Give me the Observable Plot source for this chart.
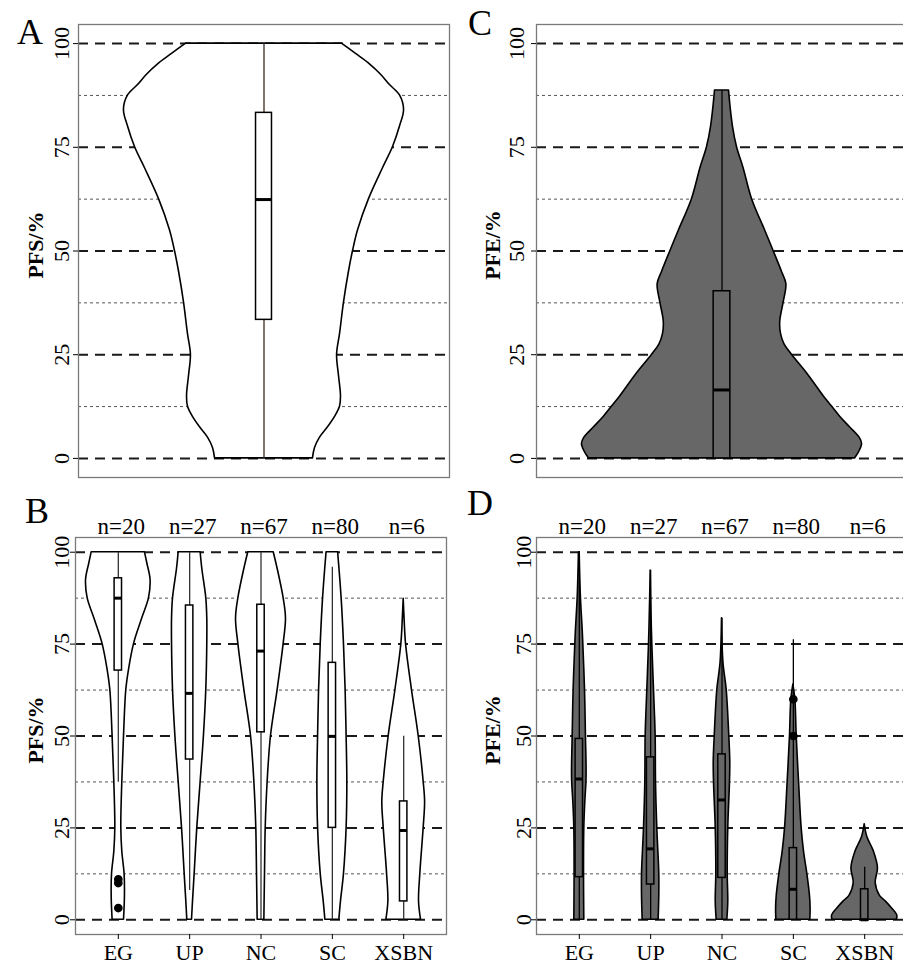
<!DOCTYPE html>
<html><head><meta charset="utf-8">
<script src="https://cdn.jsdelivr.net/npm/d3@7"></script>
<script src="https://cdn.jsdelivr.net/npm/@observablehq/plot@0.6"></script>
<style>
body{margin:0;background:#fff;}
#fig{position:relative;width:903px;height:965px;overflow:hidden;background:#fff;font-family:"Liberation Serif","Times New Roman",serif;}
.panel{position:absolute;}
.panel svg{max-width:none !important;display:block;}
.letter{position:absolute;font-size:36px;line-height:1.15;color:#000;font-family:"Liberation Serif","Times New Roman",serif;}
</style></head><body><div id="fig"></div>
<script>
// ---------- shared ----------
const yTicks = [0, 25, 50, 75, 100];
const yMinor = [12.5, 37.5, 62.5, 87.5];
const categories = ["EG", "UP", "NC", "SC", "XSBN"];
const counts = [20, 27, 67, 80, 6];

// ---------- panel A (PFS, all) ----------
const aLevels = [0,2.5,5,7.5,10,12.5,15,20,25,30,37.5,45,50,55,62.5,70,75,80,84,87.5,90,92.5,95,97.5,100];
const aWidths = [0.264,0.275,0.302,0.345,0.383,0.41,0.415,0.404,0.394,0.41,0.431,0.458,0.48,0.507,0.566,0.642,0.695,0.733,0.755,0.733,0.679,0.631,0.571,0.496,0.42];
const aStats = {q1: 33.4, med: 62.4, q3: 83.3, lo: 0, hi: 100};

// ---------- panel C (PFE, all) ----------
const cLevels = [0,1.5,3.5,5,7.5,10,12.5,15,20,25,27.5,30,33,37.5,42,45,50,55,62.5,70,75,80,87.5,88.7];
const cWidths = [0.717,0.739,0.755,0.742,0.69,0.638,0.593,0.548,0.467,0.377,0.337,0.318,0.314,0.332,0.347,0.323,0.278,0.232,0.162,0.116,0.081,0.059,0.04,0.038];
const cStats = {q1: 0, med: 16.5, q3: 40.3, lo: 0, hi: 88.7};

// ---------- panel B (PFS by region) ----------
const bEGLevels = [0,6.5,12.5,18.5,25,37.5,50,62.5,68,75,82,87.5,92.5,97,100];
const bEGWidths = [0.08,0.093,0.088,0.056,0.042,0.056,0.08,0.112,0.15,0.22,0.336,0.43,0.452,0.406,0.373];
const bUPLevels = [0,5,12.5,25,37.5,50,62.5,75,82,87.5,95.5,100];
const bUPWidths = [0.033,0.047,0.07,0.107,0.154,0.2,0.233,0.247,0.247,0.233,0.177,0.154];
const bNCLevels = [0,12.5,25,37.5,50,62.5,75,82,87.5,95.5,100];
const bNCWidths = [0.047,0.056,0.066,0.093,0.14,0.233,0.317,0.35,0.317,0.233,0.178];
const bSCLevels = [0,5,12.5,25,37.5,50,62.5,75,87.5,100];
const bSCWidths = [0.098,0.121,0.163,0.2,0.21,0.2,0.186,0.163,0.13,0.081];
const bXSLevels = [0,5,12.5,25,32,37.5,50,62.5,75,82,87.3];
const bXSWidths = [0.243,0.215,0.233,0.28,0.3,0.28,0.21,0.116,0.033,0.012,0];
const bQ1 = [67.8, 43.6, 51, 25, 5];
const bMed = [87.5, 61.6, 73.1, 49.9, 24.3];
const bQ3 = [92.9, 85.5, 85.7, 69.9, 32.2];
const bLo = [37.4, 8, 0, 0, 0];
const bHi = [100, 100, 100, 95.9, 49.9];
const bOutCat = ["EG", "EG", "EG"];
const bOutVal = [11, 10, 3.2];

// ---------- panel D (PFE by region) ----------
const dEGLevels = [0,12.5,25,32,37.5,41,50,62.5,75,79,87.5,100];
const dEGWidths = [0.07,0.066,0.07,0.084,0.1,0.102,0.093,0.08,0.056,0.047,0.023,0.005];
const dUPLevels = [0,6.5,12.5,25,37.5,50,62.5,75,87.5,95];
const dUPWidths = [0.112,0.121,0.121,0.093,0.075,0.07,0.047,0.023,0.007,0];
const dNCLevels = [0,5,12.5,25,37.5,43,50,62.5,70,82];
const dNCWidths = [0.075,0.088,0.08,0.088,0.112,0.116,0.102,0.066,0.02,0];
const dSCLevels = [0,3,6.5,12.5,18.5,25,37.5,50,60,64];
const dSCWidths = [0.238,0.242,0.233,0.196,0.15,0.116,0.08,0.047,0.028,0];
const dXSLevels = [0,1.2,3,5,6.5,10,14,18.5,22.5,26];
const dXSWidths = [0.452,0.457,0.387,0.294,0.214,0.154,0.186,0.13,0.037,0];
const dQ1 = [11.6, 9.6, 11.4, 0, 0];
const dMed = [38.3, 19.3, 32.6, 8.3, 0];
const dQ3 = [49.2, 44.2, 45, 19.5, 8.3];
const dLo = [0, 0, 0, 0, 0];
const dHi = [100, 95, 82, 76.2, 14.3];
const dOutCat = ["SC", "SC"];
const dOutVal = [60, 50];

// ---------- helpers ----------
function violinRows(list) {
  const rows = [];
  list.forEach(([pos, levels, widths]) => levels.forEach((v, i) => rows.push({pos, v, w: widths[i]})));
  return rows;
}
function statRows(q1, med, q3, lo, hi) {
  return q1.map((d, i) => ({pos: i + 1, q1: q1[i], med: med[i], q3: q3[i], lo: lo[i], hi: hi[i]}));
}

function makePanel(o) {
  const font = '"Liberation Serif","Times New Roman",serif';
  const marks = [
    Plot.ruleY(yMinor, {stroke: "#555", strokeWidth: 1, strokeDasharray: "3,3"}),
    Plot.ruleY(yTicks, {stroke: "#1a1a1a", strokeWidth: 2, strokeDasharray: "10,7"}),
    Plot.areaX(o.rows, {y: "v", x1: d => d.pos - d.w, x2: d => d.pos + d.w, z: "pos",
      fill: o.fill, stroke: "#000", strokeWidth: 1.6, curve: "catmull-rom"}),
    Plot.ruleX(o.stats, {x: "pos", y1: "lo", y2: "hi", stroke: o.whisker, strokeWidth: 1.3}),
    Plot.rect(o.stats, {x1: d => d.pos - o.bw, x2: d => d.pos + o.bw, y1: "q1", y2: "q3",
      fill: o.boxFill, stroke: "#000", strokeWidth: 1.5}),
    Plot.ruleY(o.stats, {y: "med", x1: d => d.pos - o.bw, x2: d => d.pos + o.bw, stroke: "#000", strokeWidth: 3}),
    Plot.dot(o.outliers, {x: "pos", y: "v", r: 3.6, fill: "#000", stroke: "#000"}),
    Plot.frame({stroke: "#7a7a7a", strokeWidth: 1.3}),
    Plot.axisY({ticks: yTicks, tickSize: 5, tickFormat: () => "", label: null}),
    Plot.text(yTicks, {y: d => d, text: d => String(d), frameAnchor: "left", rotate: -90,
      textAnchor: "middle", lineAnchor: "bottom", dx: o.tickDx, fontSize: 22, fontFamily: font}),
    Plot.text([o.ylab], {text: d => d, frameAnchor: "left", rotate: -90, textAnchor: "middle",
      lineAnchor: "bottom", dx: o.labDx, dy: -6, fontSize: 22, fontWeight: "bold", fontFamily: font})
  ];
  if (o.groups) {
    marks.push(
      Plot.axisX({ticks: [1, 2, 3, 4, 5], tickFormat: d => categories[d - 1], tickSize: 5,
        tickPadding: 5, fontSize: 22, label: null, fontFamily: font}),
      Plot.text(categories, {x: (d, i) => i + 1, text: (d, i) => "n=" + counts[i], frameAnchor: "top",
        lineAnchor: "bottom", dy: -4, dx: 3, fontSize: 23, fontFamily: font})
    );
  }
  const chart = Plot.plot({
    width: o.width, height: o.height,
    marginLeft: o.mL, marginRight: o.mR, marginTop: o.mT, marginBottom: o.mB,
    x: {domain: o.xDomain, axis: o.groups ? undefined : null},
    y: {domain: o.yDomain},
    style: {fontFamily: font, fontSize: "21px", color: "#000", background: "transparent", overflow: "visible"},
    marks
  });
  const div = document.createElement("div");
  div.className = "panel";
  div.style.left = o.left + "px";
  div.style.top = o.top + "px";
  div.style.width = o.width + "px";
  div.style.height = o.height + "px";
  div.appendChild(chart);
  document.getElementById("fig").appendChild(div);
}

function letter(t, left, baseline) {
  const d = document.createElement("div");
  d.className = "letter";
  d.textContent = t;
  d.style.left = left + "px";
  // line-height 1.15*36 = 41.4; baseline ≈ top + 0.075*36/... approx top + 33
  d.style.top = (baseline - 33) + "px";
  document.getElementById("fig").appendChild(d);
}

// ---------- build ----------
makePanel({
  left: 0, top: 0, width: 450, height: 482, mL: 78, mR: 1, mT: 24, mB: 5,
  xDomain: [0, 2], yDomain: [-4.6, 104.6],
  rows: violinRows([[1, aLevels, aWidths]]),
  stats: [{pos: 1, ...aStats}], outliers: [],
  fill: "#fff", boxFill: "#fff", whisker: "#3a2a22", bw: 0.043,
  ylab: "PFS/%", tickDx: -10, labDx: -36, groups: false
});
makePanel({
  left: 450, top: 0, width: 457, height: 482, mL: 86, mR: 0, mT: 24, mB: 5,
  xDomain: [0, 2], yDomain: [-4.6, 104.6],
  rows: violinRows([[1, cLevels, cWidths]]),
  stats: [{pos: 1, ...cStats}], outliers: [],
  fill: "#676767", boxFill: "#676767", whisker: "#000", bw: 0.045,
  ylab: "PFE/%", tickDx: -13, labDx: -37, groups: false
});
makePanel({
  left: 0, top: 500, width: 450, height: 465, mL: 75, mR: 4, mT: 37, mB: 31,
  xDomain: [0.4, 5.6], yDomain: [-4, 104],
  rows: violinRows([[1, bEGLevels, bEGWidths], [2, bUPLevels, bUPWidths], [3, bNCLevels, bNCWidths],
                    [4, bSCLevels, bSCWidths], [5, bXSLevels, bXSWidths]]),
  stats: statRows(bQ1, bMed, bQ3, bLo, bHi),
  outliers: bOutVal.map((v, i) => ({pos: categories.indexOf(bOutCat[i]) + 1, v})),
  fill: "#fff", boxFill: "#fff", whisker: "#333", bw: 0.052,
  ylab: "PFS/%", tickDx: -7, labDx: -33, groups: true
});
makePanel({
  left: 450, top: 500, width: 457, height: 465, mL: 86, mR: 0, mT: 37, mB: 31,
  xDomain: [0.4, 5.6], yDomain: [-4, 104],
  rows: violinRows([[1, dEGLevels, dEGWidths], [2, dUPLevels, dUPWidths], [3, dNCLevels, dNCWidths],
                    [4, dSCLevels, dSCWidths], [5, dXSLevels, dXSWidths]]),
  stats: statRows(dQ1, dMed, dQ3, dLo, dHi),
  outliers: dOutVal.map((v, i) => ({pos: categories.indexOf(dOutCat[i]) + 1, v})),
  fill: "#676767", boxFill: "#676767", whisker: "#000", bw: 0.052,
  ylab: "PFE/%", tickDx: -6, labDx: -37, groups: true
});

letter("A", 17, 45);
letter("C", 468, 36);
letter("B", 25, 524);
letter("D", 467, 516);
</script></body></html>
